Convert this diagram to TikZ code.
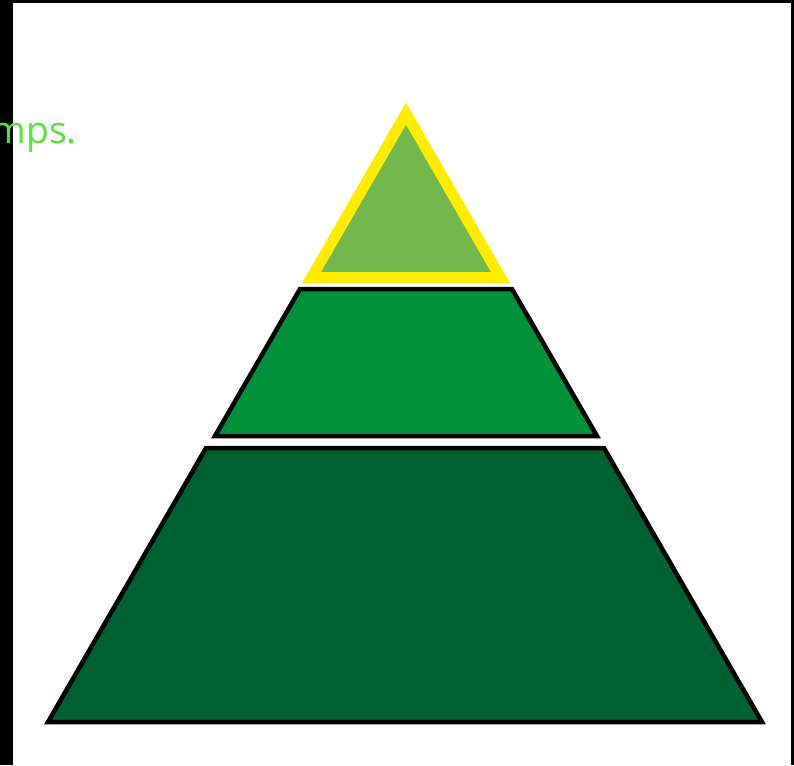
\documentclass[tikz,border=0pt]{standalone}
\usepackage{fontspec}
\newfontfamily\notefont{Open Sans}
\usepackage{xcolor}
\usepackage{tikz}
\usetikzlibrary{positioning}
\definecolor{tierlow}{RGB}{0,97,48}
\definecolor{tiermid}{RGB}{0,145,58}
\definecolor{tiertop}{RGB}{114,184,76}
\definecolor{tierrim}{RGB}{255,236,0}
\definecolor{notegreen}{RGB}{88,226,58}
\tikzset{
  tier/.style={draw=black, line width=3.2pt, line join=miter},
  every node/.style={anchor=center}
}

\begin{document}
\begin{tikzpicture}[
  x=0.025cm, y=-0.025cm,
  apex/.style={draw=tierrim, fill=tiertop, line width=7.8pt, line join=miter},
  note/.style={font=\notefont\fontsize{26.5}{32}\selectfont, text=notegreen, inner sep=0pt}
]
\useasboundingbox (0,0) rectangle (794,765);

% frame
\fill[black] (0,0) rectangle (794,765);
\fill[white] (13,3) rectangle (791,765);

% pyramid tiers, bottom to top
\draw[tier, fill=tierlow] (206,448) -- (604,448) -- (762,722) -- (48,722) -- cycle;
\draw[tier, fill=tiermid] (300,289) -- (512,289) -- (597,436) -- (215,436) -- cycle;
\draw[apex] (406,113.5) -- (500.5,277.5) -- (311.5,277.5) -- cycle;

% caption, cut at the left edge
\node[note, anchor=base east] (caption) at (77,143) {mps.};

\end{tikzpicture}
\end{document}
